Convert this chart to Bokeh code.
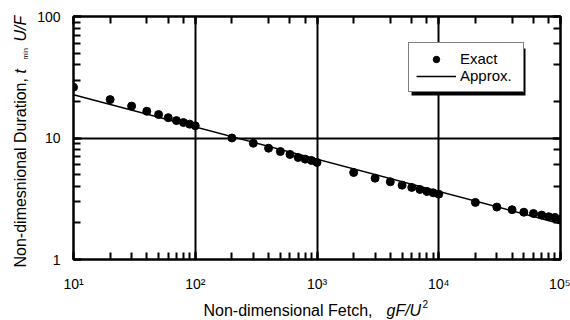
import math
from bokeh.plotting import figure
from bokeh.models import (Range1d, LogAxis, LogTicker, Legend, LegendItem,
                          CustomJSTickFormatter, BoxAnnotation, ColumnDataSource)
from bokeh.core.properties import field, value
from bokeh.embed import file_html
from bokeh.resources import INLINE

# ---- data ----
fetch = [10, 20, 30, 40, 50, 60, 70, 80, 90,
         100, 200, 300, 400, 500, 600, 700, 800, 900,
         1000, 2000, 3000, 4000, 5000, 6000, 7000, 8000, 9000,
         10000, 20000, 30000, 40000, 50000, 60000, 70000, 80000, 90000,
         100000]
duration_exact = [26.2, 20.7, 18.3, 16.6, 15.6, 14.7, 13.9, 13.4, 13.0,
                  12.6, 10.0, 9.06, 8.24, 7.74, 7.32, 6.91, 6.70, 6.53,
                  6.29, 5.20, 4.67, 4.36, 4.09, 3.92, 3.77, 3.63, 3.54,
                  3.45, 2.95, 2.70, 2.57, 2.45, 2.39, 2.32, 2.25, 2.22,
                  2.15]
approx_fetch = [10, 100000]
approx_duration = [22.7, 1.97]

x_tick_values = [10, 100, 1000, 10000, 100000]
x_tick_labels = ["10\u00b9", "10\u00b2", "10\u00b3", "10\u2074", "10\u2075"]
y_tick_values = [1, 10, 100]
y_tick_labels = ["1", "10", "100"]

# axis titles, split into their differently styled pieces
x_title_parts = ["Non-dimensional Fetch,", "gF/U", "2"]
y_title_parts = ["Non-dimesnional Duration,", "t", "min", "U/F"]

FONT = "Liberation Sans"

p = figure(width=570, height=320, x_axis_type="log", y_axis_type="log",
           x_range=Range1d(10, 1e5), y_range=Range1d(1, 100),
           output_backend="svg", toolbar_location=None,
           min_border_left=73, min_border_right=10,
           min_border_top=16, min_border_bottom=61)
p.outline_line_color = "black"
p.outline_line_width = 2
p.background_fill_color = "white"
p.border_fill_color = "white"

bottom_ax = p.below[0]
left_ax = p.left[0]

fmt_code = """
let best = 0, bd = Infinity;
for (let i = 0; i < vals.length; i++) {
  const d = Math.abs(Math.log10(tick) - Math.log10(vals[i]));
  if (d < bd) { bd = d; best = i; }
}
return bd < 1e-6 ? labs[best] : '';
"""
bottom_ax.formatter = CustomJSTickFormatter(args=dict(vals=x_tick_values, labs=x_tick_labels), code=fmt_code)
left_ax.formatter = CustomJSTickFormatter(args=dict(vals=y_tick_values, labs=y_tick_labels), code=fmt_code)

# extra axes for ticks on top and right
top_ax = LogAxis(ticker=LogTicker(), formatter=CustomJSTickFormatter(code="return ''"),
                 major_label_text_font_size="0px", major_label_standoff=0)
right_ax = LogAxis(ticker=LogTicker(), formatter=CustomJSTickFormatter(code="return ''"),
                   major_label_text_font_size="0px", major_label_standoff=0)
p.add_layout(top_ax, "above")
p.add_layout(right_ax, "right")

for ax in [bottom_ax, left_ax, top_ax, right_ax]:
    ax.axis_line_color = "black"
    ax.axis_line_width = 2
    ax.major_tick_in = 8
    ax.major_tick_out = 0
    ax.minor_tick_in = 7
    ax.minor_tick_out = 0
    ax.major_tick_line_color = "black"
    ax.minor_tick_line_color = "black"
    ax.major_tick_line_width = 2
    ax.minor_tick_line_width = 2
    ax.major_label_text_font = FONT
    ax.major_label_text_color = "black"

bottom_ax.major_label_text_font_size = "14px"
left_ax.major_label_text_font_size = "14px"
bottom_ax.major_label_standoff = 16
left_ax.major_label_standoff = 13

p.xgrid.grid_line_color = "black"
p.xgrid.grid_line_width = 2
p.xgrid.grid_line_alpha = 1
p.ygrid.grid_line_color = "black"
p.ygrid.grid_line_width = 2
p.ygrid.grid_line_alpha = 1

r_approx = p.line(approx_fetch, approx_duration, line_color="black", line_width=1.5)
r_exact = p.scatter(fetch, duration_exact, marker="circle", size=8,
                    fill_color="black", line_color="black")

# legend shadow (screen units: from frame's bottom-left, y up)
shadow = BoxAnnotation(left=338, right=452, top=211, bottom=164,
                       left_units="screen", right_units="screen",
                       top_units="screen", bottom_units="screen",
                       fill_color="black", fill_alpha=1, line_alpha=0)
p.add_layout(shadow)

legend = Legend(items=[LegendItem(label="Exact", renderers=[r_exact]),
                       LegendItem(label="Approx.", renderers=[r_approx])],
                location=(335, 167), glyph_width=40, glyph_height=16,
                label_height=16, label_width=56, padding=7, spacing=0,
                label_standoff=4, margin=0,
                border_line_color="black", border_line_width=1,
                background_fill_color="white", background_fill_alpha=1,
                label_text_font=FONT, label_text_font_size="15px",
                label_text_color="black")
p.add_layout(legend)

# ---- axis titles: text glyphs anchored at the frame's bottom-left corner,
# drawn at the overlay level (pixel offsets, +y is downward) ----
A = math.pi / 2
titles = ColumnDataSource(dict(
    x=[p.x_range.start] * 7,
    y=[p.y_range.start] * 7,
    text=x_title_parts + y_title_parts,
    dx=[130, 313, 349, -53, -53, -48, -53],
    dy=[51, 51, 44, 8, -186, -200, -218],
    size=["16px", "16px", "10px", "16px", "16px", "7px", "16px"],
    style=["normal", "italic", "normal", "normal", "italic", "normal", "italic"],
    angle=[0, 0, 0, A, A, A, A],
))
p.text(x="x", y="y", text="text", source=titles,
       x_offset="dx", y_offset="dy", angle="angle",
       text_font=value(FONT), text_font_size=field("size"),
       text_font_style=field("style"), text_color="black",
       text_align="left", text_baseline="alphabetic", level="overlay")

open("out.html", "w").write(file_html(p, INLINE))
